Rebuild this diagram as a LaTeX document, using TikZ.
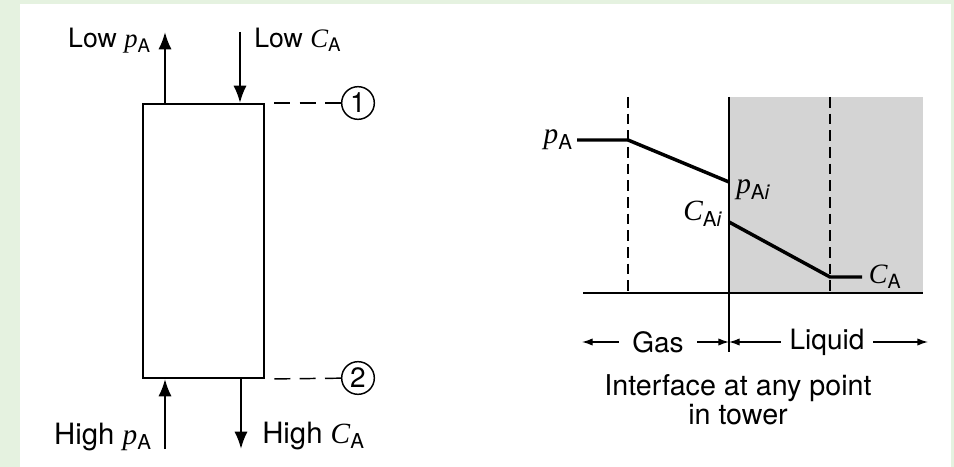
\documentclass[tikz,border=0pt]{standalone}
\usepackage{fontspec}
\setmainfont{TeX Gyre Heros}
\newfontfamily\symfont{Liberation Serif}
\usetikzlibrary{positioning,arrows.meta}
\definecolor{pagegreen}{RGB}{229,242,224}
\newcommand{\fsz}[1]{\fontsize{#1}{#1}\selectfont}
\newcommand{\qty}[2]{{\symfont\itshape #1}\textsubscript{#2}}

\begin{document}
\begin{tikzpicture}[
  x=0.75pt, y=-0.75pt,
  >={Latex[length=13pt,width=10pt]},
  every node/.style={font=\fsz{20}},
  tower/.style={draw, line width=1.5pt, minimum width=90.75pt, minimum height=205.5pt, inner sep=0pt},
  num/.style={draw, circle, line width=1.1pt, minimum size=24.5pt, inner sep=0pt, font=\fsz{21}},
  guide/.style={dash pattern=on 12pt off 7pt, line width=1.1pt},
  flow/.style={->, line width=1.8pt},
  profile/.style={line width=2.6pt},
  split/.style={dash pattern=on 8pt off 4.5pt, line width=1pt},
  side/.style={{Latex[length=8pt,width=5.5pt]}-, line width=1pt},
  film/.style={fill=black!17}
]
\fill[pagegreen] (0,0) rectangle (954,467);
\fill[white] (20,4) rectangle (951,467);
\useasboundingbox (0,0) rectangle (954,467);

% tower
\node[tower] (col) at (203.5,241) {};
\coordinate (outGas) at (165,32);
\coordinate (inLiq) at (240,32);
\coordinate (inGas) at (165,449);
\coordinate (outLiq) at (241,449);
\draw[flow] (col.north -| outGas) -- (outGas);
\draw[flow] (inLiq) -- (col.north -| inLiq);
\draw[flow] (inGas) -- (col.south -| inGas);
\draw[flow] (col.south -| outLiq) -- (outLiq);
\node[anchor=east, inner sep=0pt] (lowp) at (151,41) {Low \qty{p}{A}};
\node[anchor=west, inner sep=0pt] (lowc) at (254,40) {Low \qty{C}{A}};
\node[anchor=east, inner sep=0pt, font=\fsz{22}] (highp) at (152,437) {High \qty{p}{A}};
\node[anchor=west, inner sep=0pt, font=\fsz{22}] (highc) at (262,436) {High \qty{C}{A}};

\node[num] (one) at (358,103) {1};
\node[num] (two) at (358,378) {2};
\draw[guide, shorten <=7pt] (col.north east) -- (one);
\draw[guide, shorten <=7pt] (col.south east) -- (two);

% interface profile
\fill[film] (729,97) rectangle (923,293);
\coordinate (ifTop) at (729,97);
\coordinate (ifBot) at (729,352);
\coordinate (gasEdge) at (628,97);
\coordinate (liqEdge) at (830,97);
\coordinate (baseL) at (583,293);
\coordinate (baseR) at (923,293);
\draw[line width=1.2pt] (ifTop) -- (ifBot);
\draw[line width=1.5pt] (baseL) -- (baseR);
\draw[split] (gasEdge) -- (gasEdge |- baseL);
\draw[split] (liqEdge) -- (liqEdge |- baseL);

\coordinate (pa0) at (577,140);
\coordinate (pa1) at (628,140);
\coordinate (pai) at (729,182);
\coordinate (cai) at (729,222);
\coordinate (ca1) at (830,277);
\coordinate (ca0) at (862,277);
\draw[profile] (pa0) -- (pa1) -- (pai);
\draw[profile] (cai) -- (ca1) -- (ca0);
\node[anchor=east, font=\fsz{22}, inner sep=3pt] (lpa) at (pa0) {\qty{p}{A}};
\node[anchor=west, font=\fsz{22}, inner sep=3pt] (lpai) at (732,190) {\qty{p}{A\textit{i}}};
\node[anchor=east, font=\fsz{22}, inner sep=3pt] (lcai) at (727,214) {\qty{C}{A\textit{i}}};
\node[anchor=west, font=\fsz{21}, inner sep=5pt] (lca) at (ca0) {\qty{C}{A}};

\node[font=\fsz{21}, inner sep=10pt] (gas) at (658,342) {Gas};
\node[font=\fsz{21}, inner sep=6pt] (liquid) at (827,342) {Liquid};
\coordinate (gasEnd) at (582,342);
\coordinate (liqEnd) at (928,342);
\draw[side] (gasEnd) -- (gas.west);
\draw[side] (ifBot |- gas) -- (gas.east);
\draw[side] (ifBot |- liquid) -- (liquid.west);
\draw[side] (liqEnd) -- (liquid.east);
\node[align=center, font=\fsz{21.5}] (iface) at (738,400) {Interface at any point\\in tower};
\end{tikzpicture}
\end{document}
